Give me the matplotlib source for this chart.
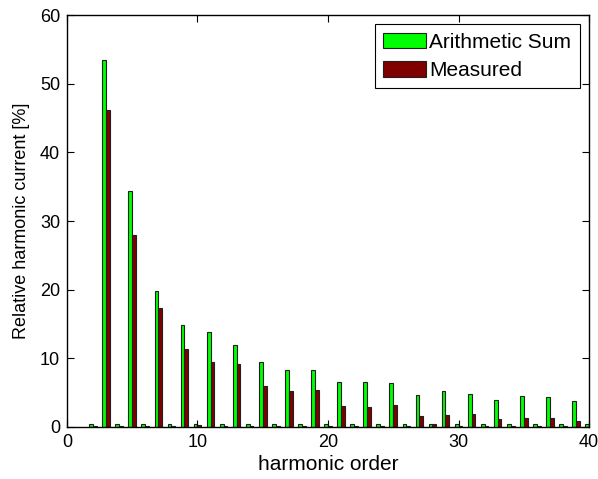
import matplotlib
matplotlib.use('Agg')
import matplotlib.pyplot as plt
import numpy as np

plt.rcParams['font.family'] = ['Liberation Sans', 'DejaVu Sans']

# harmonic orders 2..40
harmonics = list(range(2, 41))

# odd harmonics, even ones are small
arith_odd = [53.4, 34.4, 19.8, 14.8, 13.8, 11.9, 9.4, 8.3, 8.3, 6.6,
             6.5, 6.4, 4.7, 5.2, 4.8, 3.9, 4.5, 4.3, 3.8]
meas_odd = [46.2, 27.9, 17.3, 11.3, 9.4, 9.2, 5.9, 5.2, 5.4, 3.0,
            2.9, 3.2, 1.6, 1.8, 1.9, 1.1, 1.3, 1.3, 0.8]
arith_even = [0.4, 0.4, 0.4, 0.4, 0.5, 0.4, 0.4, 0.4, 0.4, 0.4,
              0.4, 0.4, 0.4, 0.5, 0.5, 0.4, 0.4, 0.5, 0.5, 0.4]
meas_even = [0.15, 0.15, 0.15, 0.15, 0.3, 0.15, 0.15, 0.15, 0.15, 0.15,
             0.15, 0.15, 0.15, 0.4, 0.2, 0.15, 0.15, 0.2, 0.15, 0.15]

arith = []
meas = []
for h in harmonics:
    if h % 2 == 0:
        arith.append(arith_even[(h - 2) // 2])
        meas.append(meas_even[(h - 2) // 2])
    else:
        arith.append(arith_odd[(h - 3) // 2])
        meas.append(meas_odd[(h - 3) // 2])

fig = plt.figure(figsize=(5.98, 4.79), dpi=100)
ax = fig.add_axes([0.112, 0.1086, 0.873, 0.86])

# matlab style grouped bars
x = np.array(harmonics)
w = 0.29
ax.bar(x - w / 2, arith, width=w, color='#00ff00', edgecolor='#202020',
       linewidth=0.8, label='Arithmetic Sum')
ax.bar(x + w / 2, meas, width=w, color='#800000', edgecolor='#202020',
       linewidth=0.8, label='Measured')

ax.set_xlim(0, 40)
ax.set_ylim(0, 60)
ax.set_xticks([0, 10, 20, 30, 40])
ax.set_yticks([0, 10, 20, 30, 40, 50, 60])
ax.tick_params(direction='in', top=True, right=True, labelsize=13, length=5, pad=5)
for s in ax.spines.values():
    s.set_linewidth(1.0)

ax.set_xlabel('harmonic order', fontsize=15, labelpad=3)
ax.set_ylabel('Relative harmonic current [%]', fontsize=13, labelpad=7)

leg = ax.legend(loc='upper right', fontsize=15, fancybox=False, framealpha=1,
                edgecolor='black', handlelength=2.07, handleheight=0.77,
                borderaxespad=0.45, borderpad=0.4, labelspacing=0.45,
                handletextpad=0.15)
leg.get_frame().set_linewidth(0.8)

fig.savefig('out.png', dpi=100)
